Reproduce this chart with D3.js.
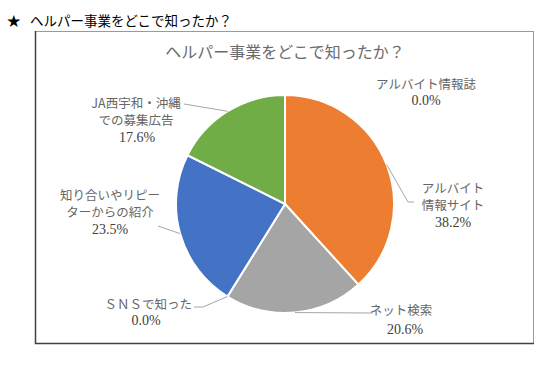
<!DOCTYPE html>
<html><head><meta charset="utf-8">
<script src="https://cdn.jsdelivr.net/npm/d3@7"></script>
<style>
body{margin:0;background:#fff;}
svg{display:block;}
</style></head>
<body>
<svg id="c" width="545" height="366"></svg>
<script>
// ---- data ----
const categories = ["アルバイト情報誌","アルバイト情報サイト","ネット検索","ＳＮＳで知った","知り合いやリピーターからの紹介","JA西宇和・沖縄での募集広告"];
const labelLines = [["アルバイト情報誌"],["アルバイト","情報サイト"],["ネット検索"],["ＳＮＳで知った"],["知り合いやリピー","ターからの紹介"],["JA西宇和・沖縄","での募集広告"]];
const values = [0.0, 38.2, 20.6, 0.0, 23.5, 17.6];
const colors = ["#4472C4","#ED7D31","#A5A5A5","#FFC000","#4472C4","#70AD47"];
const pageStar = "★";
const pageTitle = "ヘルパー事業をどこで知ったか？";
const chartTitle = "ヘルパー事業をどこで知ったか？";

// ---- layout ----
const cx = 285, cy = 204, R = 109;
const labelLayout = [
  {x:426, y:83, anchor:"middle", pctX:426, leader:null},
  {x:453, y:187, anchor:"middle", pctX:453, leader:[[408,202],[414,202]]},
  {x:401, y:309, anchor:"middle", pctX:405, leader:[[372,313]], lh:20},
  {x:192, y:303, anchor:"end", pctX:146, leader:[[203,307],[194,307]]},
  {x:110, y:194, anchor:"middle", pctX:110, leader:[[158,226]]},
  {x:136, y:102, anchor:"middle", pctX:137, leader:[[184,104]]}
];

const svg = d3.select("#c");
const font = "'Noto Sans CJK JP', sans-serif";
const numFont = "'Liberation Serif', 'Noto Sans CJK JP', serif";

svg.append("text").attr("x",7).attr("y",20).attr("dominant-baseline","central")
  .attr("font-family",font).attr("font-size",13.5).attr("fill","#000").text(pageStar);
svg.append("text").attr("x",30).attr("y",20).attr("dominant-baseline","central")
  .attr("font-family",font).attr("font-size",13.5).attr("fill","#000").text(pageTitle);

// frame
svg.append("rect").attr("x",35.5).attr("y",31.5).attr("width",498).attr("height",312)
  .attr("fill","#fff").attr("stroke","#9a9a9a").attr("stroke-width",1);
svg.append("path").attr("d","M35.5,31 V343.5 H534").attr("fill","none").attr("stroke","#404040").attr("stroke-width",1.5);

svg.append("text").attr("x",285).attr("y",51).attr("text-anchor","middle").attr("dominant-baseline","central")
  .attr("font-family",font).attr("font-size",16).attr("fill","#6b6b6b").text(chartTitle);

const pie = d3.pie().sort(null).value(d=>d);
const arcs = pie(values);
const arc = d3.arc().innerRadius(0).outerRadius(R);
const g = svg.append("g").attr("transform",`translate(${cx},${cy})`);
g.selectAll("path.slice").data(arcs).enter().append("path").attr("class","slice")
  .attr("d",arc).attr("fill",(d,i)=>colors[i]).attr("stroke","#fff").attr("stroke-width",2);

// leader lines
arcs.forEach((a,i)=>{
  const L = labelLayout[i];
  if(!L.leader) return;
  const m = (a.startAngle+a.endAngle)/2;
  const sx = cx + R*Math.sin(m), sy = cy - R*Math.cos(m);
  const pts = [[sx,sy]].concat(L.leader);
  svg.append("path").attr("d", d3.line()(pts)).attr("fill","none").attr("stroke","#a6a6a6").attr("stroke-width",1);
});

// labels
arcs.forEach((a,i)=>{
  const L = labelLayout[i];
  const lh = L.lh || 17.5;
  const lines = labelLines[i];
  lines.forEach((t,k)=>{
    svg.append("text").attr("x",L.x).attr("y",L.y + k*lh).attr("text-anchor",L.anchor)
      .attr("dominant-baseline","central").attr("font-family",font).attr("font-size",12.5)
      .attr("fill","#666").text(t);
  });
  svg.append("text").attr("x",L.pctX).attr("y",L.y + lines.length*lh).attr("text-anchor","middle")
    .attr("dominant-baseline","central").attr("font-family",numFont).attr("font-size",14)
    .attr("fill","#404040").text(d3.format(".1f")(values[i])+"%");
});
</script>
</body></html>
